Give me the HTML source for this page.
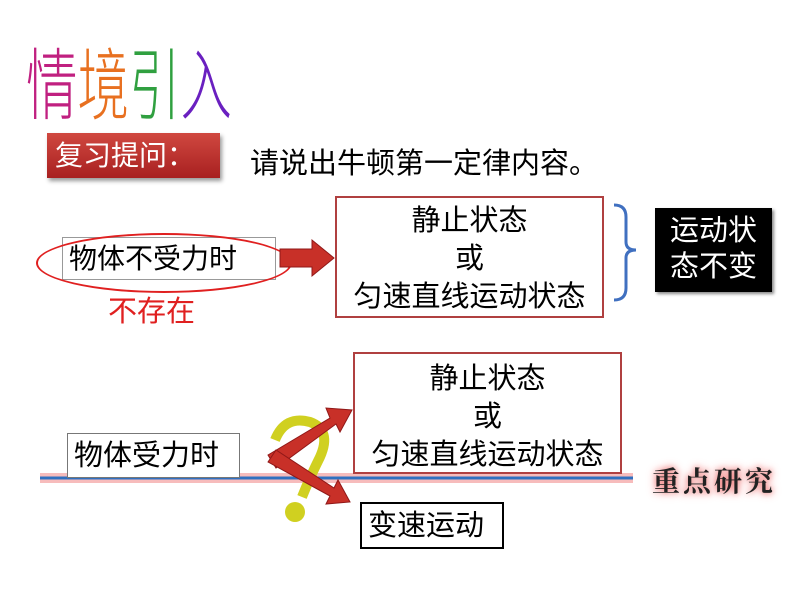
<!DOCTYPE html>
<html><head><meta charset="utf-8"><style>
body{margin:0;width:800px;height:600px;background:#fff;position:relative;overflow:hidden;font-family:"Liberation Sans","Noto Sans CJK SC",sans-serif}
.a{position:absolute}
.t{font-size:29px;color:#000;white-space:nowrap}
.box{position:absolute;box-sizing:border-box;background:#fff}
.c{text-align:center;line-height:38px}
</style></head><body>
<div class="a" style="left:26px;top:30px;font-size:78px;line-height:100px;transform:scaleX(0.66);transform-origin:left top;font-family:'Noto Sans CJK SC',sans-serif;font-weight:300;letter-spacing:0px;white-space:nowrap">
<span style="color:#c02080">情</span><span style="color:#e87020">境</span><span style="color:#30a040">引</span><span style="color:#6a20c0">入</span></div>
<div class="box" style="left:47px;top:133px;width:173px;height:45px;background:linear-gradient(#d04840,#a82020);box-shadow:2px 3px 4px #999;color:#fff;font-size:28px;line-height:45px;padding-left:8px;white-space:nowrap">复习提问：</div>
<div class="a t" style="left:250px;top:140px">请说出牛顿第一定律内容。</div>
<div class="box" style="left:62px;top:237px;width:214px;height:43px;border:1px solid #999;font-size:28px;line-height:42px;padding-left:6px;white-space:nowrap">物体不受力时</div>
<div class="a" style="left:36px;top:233px;width:252px;height:56px;border:2px solid #e02020;border-radius:50%"></div>
<div class="a" style="left:108px;top:288px;font-size:29px;color:#e02020">不存在</div>
<svg class="a" style="left:0;top:0" width="800" height="600">
<polygon points="280,249 312,249 312,240 334,258 312,276 312,267 280,267" fill="#c83028" stroke="#901818"/>
<path d="M614,205 q12,0 12,12 v25 q0,8 10,8 q-10,0 -10,8 v30 q0,12 -12,12" fill="none" stroke="#4070c0" stroke-width="3"/>
<line x1="40" y1="478" x2="633" y2="478" stroke="#f4a0a0" stroke-width="10" opacity="0.7"/>
<line x1="40" y1="478" x2="633" y2="478" stroke="#3070c0" stroke-width="3"/>
<path d="M275,440 q10,-25 35,-18 q22,8 10,35 q-10,20 -18,40" fill="none" stroke="#d0d020" stroke-width="10"/>
<circle cx="295" cy="512" r="10" fill="#d0d020"/>
<polygon points="268,455 330,418 326,408 352,410 340,432 336,424 276,468" fill="#c83028" stroke="#901818"/>
<polygon points="268,462 276,450 334,488 338,480 350,502 326,504 330,496" fill="#c83028" stroke="#901818"/>
</svg>
<div class="box c t" style="left:335px;top:196px;width:269px;height:122px;border:2px solid #b04040;padding-top:4px">静止状态<br>或<br>匀速直线运动状态</div>
<div class="box c t" style="left:655px;top:208px;width:117px;height:84px;background:#000;color:#fff;line-height:36px;padding-top:5px;box-shadow:2px 2px 3px #888">运动状<br>态不变</div>
<div class="box c t" style="left:353px;top:352px;width:269px;height:122px;border:2px solid #b04040;padding-top:6px">静止状态<br>或<br>匀速直线运动状态</div>
<div class="box" style="left:67px;top:433px;width:173px;height:45px;border:1px solid #777;font-size:29px;line-height:45px;padding-left:6px;white-space:nowrap">物体受力时</div>
<div class="a" style="left:652px;top:460px;font-size:28px;font-family:'Noto Serif CJK SC',serif;font-weight:bold;color:#222;letter-spacing:3px;text-shadow:0 0 6px #f08080,0 0 10px #f08080;white-space:nowrap">重点研究</div>
<div class="box" style="left:360px;top:502px;width:144px;height:47px;border:2px solid #000;font-size:29px;line-height:45px;padding-left:6px;white-space:nowrap">变速运动</div>
</body></html>
